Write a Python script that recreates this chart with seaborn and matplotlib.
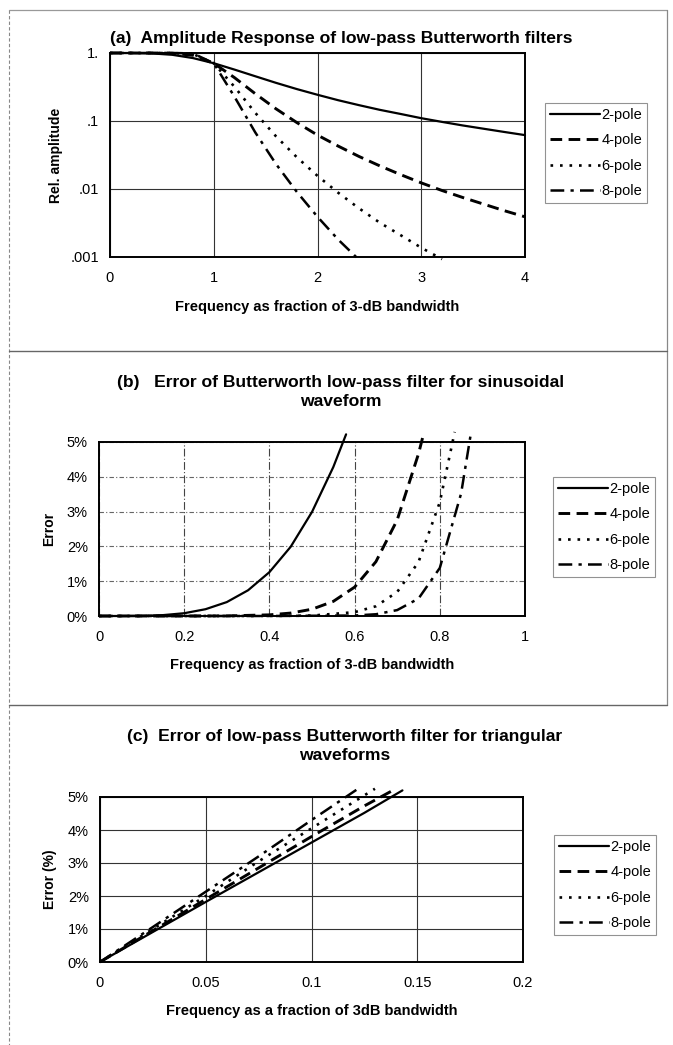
import pandas as pd
import matplotlib
matplotlib.use("Agg")
import matplotlib.pyplot as plt
import seaborn as sns
from matplotlib.lines import Line2D
from matplotlib.ticker import NullLocator

# series names
poles = ['2-pole', '4-pole', '6-pole', '8-pole']

# (a) amplitude response
freq_a = [0, 0.2, 0.4, 0.6, 0.8, 1.0, 1.2, 1.4, 1.6, 1.8, 2.0, 2.2, 2.4, 2.6, 2.8, 3.0, 3.2, 3.4, 3.6, 3.8, 4.0]
amp_2 = [1.0, 0.999, 0.987, 0.941, 0.842, 0.707, 0.570, 0.455, 0.364, 0.295, 0.243, 0.202, 0.171, 0.146, 0.127,
         0.110, 0.097, 0.086, 0.077, 0.069, 0.062]
amp_4 = [1.0, 1.0, 1.0, 0.992, 0.925, 0.707, 0.434, 0.252, 0.151, 0.095, 0.062, 0.0427, 0.0301, 0.0219, 0.0163,
         0.0123, 0.0095, 0.0075, 0.0060, 0.0048, 0.0039]
amp_6 = [1.0, 1.0, 1.0, 0.999, 0.967, 0.707, 0.318, 0.132, 0.0595, 0.0294, 0.0156, 0.0088, 0.0052, 0.0032,
         0.0021, 0.00137, 0.00093]
amp_8 = [1.0, 1.0, 1.0, 1.0, 0.986, 0.707, 0.227, 0.068, 0.0233, 0.0091, 0.0039, 0.0018, 0.00091]

# (b) error for sinusoidal waveform (%)
freq_b2 = [0, 0.05, 0.1, 0.15, 0.2, 0.25, 0.3, 0.35, 0.4, 0.45, 0.5, 0.55, 0.58]
err_b2 = [0, 0.0, 0.005, 0.025, 0.08, 0.195, 0.40, 0.74, 1.26, 1.99, 2.99, 4.28, 5.22]
freq_b4 = [0, 0.1, 0.2, 0.3, 0.4, 0.45, 0.5, 0.55, 0.6, 0.65, 0.7, 0.75, 0.76]
err_b4 = [0, 0, 0, 0.003, 0.033, 0.084, 0.195, 0.42, 0.83, 1.56, 2.76, 4.66, 5.14]
freq_b6 = [0, 0.2, 0.4, 0.5, 0.6, 0.65, 0.7, 0.75, 0.8, 0.835]
err_b6 = [0, 0, 0.001, 0.012, 0.11, 0.28, 0.69, 1.55, 3.27, 5.29]
freq_b8 = [0, 0.2, 0.4, 0.6, 0.65, 0.7, 0.75, 0.8, 0.85, 0.873]
err_b8 = [0, 0, 0, 0.014, 0.05, 0.17, 0.50, 1.38, 3.52, 5.25]

# (c) error for triangular waveforms (%)
freq_c2 = [0, 0.025, 0.05, 0.075, 0.1, 0.125, 0.143]
err_c2 = [0, 0.91, 1.82, 2.72, 3.62, 4.52, 5.2]
freq_c4 = [0, 0.025, 0.05, 0.075, 0.1, 0.125, 0.139]
err_c4 = [0, 0.95, 1.9, 2.85, 3.8, 4.73, 5.22]
freq_c6 = [0, 0.025, 0.05, 0.075, 0.1, 0.13]
err_c6 = [0, 1.0, 2.0, 3.05, 4.05, 5.25]
freq_c8 = [0, 0.025, 0.05, 0.075, 0.1, 0.122]
err_c8 = [0, 1.06, 2.13, 3.2, 4.3, 5.25]

# tick labels
yticks_a = [0.001, 0.01, 0.1, 1]
ylabels_a = ['.001', '.01', '.1', '1.']
xticks_a = [0, 1, 2, 3, 4]
xticks_b = [0, 0.2, 0.4, 0.6, 0.8, 1]
xlabels_b = ['0', '0.2', '0.4', '0.6', '0.8', '1']
xticks_c = [0, 0.05, 0.1, 0.15, 0.2]
xlabels_c = ['0', '0.05', '0.1', '0.15', '0.2']
yticks_pct = [0, 1, 2, 3, 4, 5]
ylabels_pct = ['0%', '1%', '2%', '3%', '4%', '5%']

sns.set_style("white")
plt.rcParams['font.family'] = ['Liberation Sans', 'DejaVu Sans']
for key in ['text.color', 'axes.labelcolor', 'xtick.color', 'ytick.color']:
    plt.rcParams[key] = 'black'

W, H = 673, 1045
fig = plt.figure(figsize=(W / 100, H / 100), dpi=100)

dashes = {'2-pole': '', '4-pole': (4, 2.2), '6-pole': (1, 2.6), '8-pole': (5.5, 2.5, 1.3, 2.5)}
widths = {'2-pole': 1.6, '4-pole': 2.1, '6-pole': 1.9, '8-pole': 1.8}


def px_axes(l, t, r, b):
    return fig.add_axes([l / W, 1 - b / H, (r - l) / W, (b - t) / H])


def long_df(xs, ys):
    # series can stop early where they leave the plot
    frames = [pd.DataFrame({'freq': x[:len(y)], 'val': y, 'series': p}) for p, x, y in zip(poles, xs, ys)]
    return pd.concat(frames, ignore_index=True)


def draw(ax, df, leg_x, leg_y):
    sns.lineplot(data=df, x='freq', y='val', hue='series', style='series',
                 hue_order=poles, style_order=poles, palette=['black'] * 4,
                 dashes=dashes, estimator=None, sort=False, legend=False, ax=ax)
    for line, p in zip(ax.lines, poles):
        line.set_linewidth(widths[p])
        line.set_clip_on(False)
    leg = ax.legend(ax.lines, poles, loc='upper left', bbox_to_anchor=(leg_x / W, 1 - leg_y / H),
                    bbox_transform=fig.transFigure, frameon=True, fancybox=False,
                    fontsize=10.5, handlelength=3.4, handletextpad=0.1, labelspacing=0.78,
                    borderpad=0.35, borderaxespad=0)
    leg.get_frame().set_edgecolor('#777777')
    leg.get_frame().set_linewidth(0.8)
    for s in ax.spines.values():
        s.set_color('black')
        s.set_linewidth(1.4)
    ax.tick_params(axis='both', length=0, labelsize=10.5)
    ax.tick_params(axis='x', pad=10)
    ax.tick_params(axis='y', pad=8)
    ax.set_axisbelow(True)


lab = dict(fontsize=10.5, fontweight='bold')

# (a)
ax1 = px_axes(110, 53, 525, 257)
draw(ax1, long_df([freq_a] * 4, [amp_2, amp_4, amp_6, amp_8]), 545, 103)
ax1.grid(True, color='#333333', lw=0.8)
ax1.set_yscale('log')
ax1.set_ylim(0.001, 1)
ax1.set_xlim(0, 4)
ax1.set_yticks(yticks_a)
ax1.set_yticklabels(ylabels_a)
ax1.yaxis.set_minor_locator(NullLocator())
ax1.set_xticks(xticks_a)
ax1.set_xlabel('Frequency as fraction of 3-dB bandwidth', labelpad=11, **lab)
ax1.set_ylabel('Rel. amplitude', labelpad=5, fontsize=10, fontweight='bold')

# (b)
ax2 = px_axes(99, 442, 525, 616)
draw(ax2, long_df([freq_b2, freq_b4, freq_b6, freq_b8], [err_b2, err_b4, err_b6, err_b8]), 553, 477)
ax2.grid(True, axis='x', color='#444444', lw=0.8, ls=(0, (7, 2, 1, 2)))
ax2.grid(True, axis='y', color='#666666', lw=0.8, ls=(0, (4, 2, 1, 2)))
ax2.set_xlim(0, 1)
ax2.set_ylim(0, 5)
ax2.set_xticks(xticks_b)
ax2.set_xticklabels(xlabels_b)
ax2.set_yticks(yticks_pct)
ax2.set_yticklabels(ylabels_pct)
ax2.set_xlabel('Frequency as fraction of 3-dB bandwidth', labelpad=10, **lab)
ax2.set_ylabel('Error', labelpad=8, fontsize=10, fontweight='bold')

# (c)
ax3 = px_axes(100, 797, 523, 962)
draw(ax3, long_df([freq_c2, freq_c4, freq_c6, freq_c8], [err_c2, err_c4, err_c6, err_c8]), 554, 835)
ax3.grid(True, color='#333333', lw=0.8)
ax3.set_xlim(0, 0.2)
ax3.set_ylim(0, 5)
ax3.set_xticks(xticks_c)
ax3.set_xticklabels(xlabels_c)
ax3.set_yticks(yticks_pct)
ax3.set_yticklabels(ylabels_pct)
ax3.set_xlabel('Frequency as a fraction of 3dB bandwidth', labelpad=10, **lab)
ax3.set_ylabel('Error (%)', labelpad=8, fontsize=10, fontweight='bold')

# titles
ttl = dict(ha='center', va='center', fontsize=12.6, fontweight='bold', linespacing=1.4)
fig.text(341 / W, 1 - 38 / H, '(a)  Amplitude Response of low-pass Butterworth filters', **ttl)
fig.text(341 / W, 1 - 392 / H, '(b)   Error of Butterworth low-pass filter for sinusoidal\nwaveform', **ttl)
fig.text(345 / W, 1 - 746 / H, '(c)  Error of low-pass Butterworth filter for triangular\nwaveforms', **ttl)


# chart-area borders
def fig_line(x0, y0, x1, y1, **kw):
    fig.add_artist(Line2D([x0 / W, x1 / W], [1 - y0 / H, 1 - y1 / H], transform=fig.transFigure, **kw))


fig_line(9, 10, 9, 1045, color='#888888', lw=0.8, ls=(0, (3, 2)))
fig_line(9, 10, 667, 10, color='#999999', lw=0.9)
fig_line(667, 10, 667, 705, color='#888888', lw=0.9)
fig_line(9, 351, 667, 351, color='#666666', lw=1.0)
fig_line(9, 705, 667, 705, color='#666666', lw=1.0)

fig.savefig('out.png', dpi=100, facecolor='white')
